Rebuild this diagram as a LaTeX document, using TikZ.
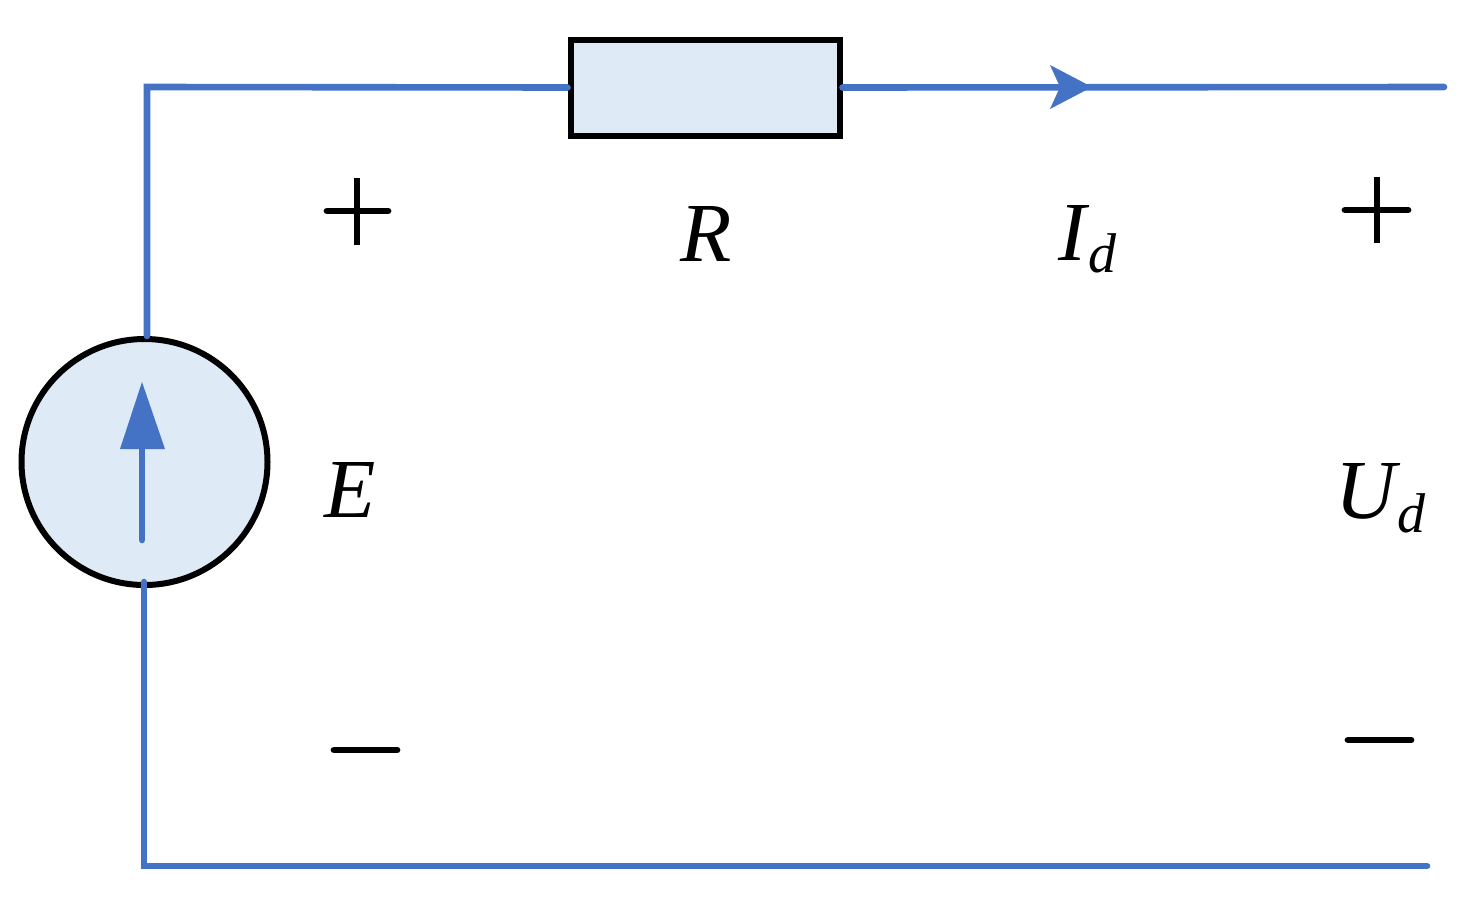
\documentclass[tikz,border=0pt]{standalone}
\usepackage{fontspec}
\setmainfont{Liberation Serif}
\definecolor{wireblue}{RGB}{68,114,196}
\definecolor{boxblue}{RGB}{222,234,246}
\tikzset{
    wire/.style={draw=wireblue,line width=3.3pt,line cap=round},
    part/.style={draw=black,fill=boxblue,line width=3pt},
    lbl/.style={anchor=base west,inner sep=0pt,font=\fontsize{42}{42}\selectfont\itshape},
    sub/.style={anchor=base west,inner sep=0pt,font=\fontsize{28}{28}\selectfont\itshape},
    sign/.style={draw=black,line width=3.4pt},
    dash sign/.style={sign,line cap=round},
}
\begin{document}
\begin{tikzpicture}[x=1pt,y=-1pt,scale=0.5]
    \useasboundingbox (0,0) rectangle (1475,900);
    \coordinate (topleft) at (147,87);
    \coordinate (topright) at (1444,87);
    \coordinate (botleft) at (144,866);
    \coordinate (botright) at (1427,866);
    \coordinate (srcbot) at (144,582);
    \coordinate (tip) at (1092,87);
    \node[part,minimum width=134.5pt,minimum height=48pt,inner sep=0pt] (res) at (705,87.5) {};
    \node[part,circle,minimum size=123pt,inner sep=0pt] (src) at (144.5,462) {};
    \draw[wire] (src.north -| topleft) -- (topleft) -- (res.west);
    \draw[wire] (res.east) -- (topright);
    \draw[wire] (srcbot) -- (botleft) -- (botright);
    \fill[wireblue] (tip) -- (1050,65) -- (1060,87) -- (1050,109) -- cycle;
    \coordinate (arrowtail) at (142,540);
    \coordinate (arrowtip) at (142,382);
    \draw[wire] (arrowtail) -- (142,440);
    \fill[wireblue] (arrowtip) -- (165,449) -- (120,449) -- cycle;
    \node[lbl] (labR) at (680,261) {R};
    \node[lbl] (labE) at (324,517) {E};
    \node[lbl] (labI) at (1058,260) {I};
    \node[sub] (labId) at (1088,272) {d};
    \node[lbl] (labU) at (1335,518) {U};
    \node[sub] (labUd) at (1397,532) {d};
    \draw[dash sign] (327,211) -- (388,211);
    \draw[sign] (357,178) -- (357,245);
    \draw[dash sign] (1345,210) -- (1408,210);
    \draw[sign] (1377,177) -- (1377,243);
    \draw[dash sign] (334,750) -- (397,750);
    \draw[dash sign] (1348,740) -- (1411,740);
\end{tikzpicture}
\end{document}
